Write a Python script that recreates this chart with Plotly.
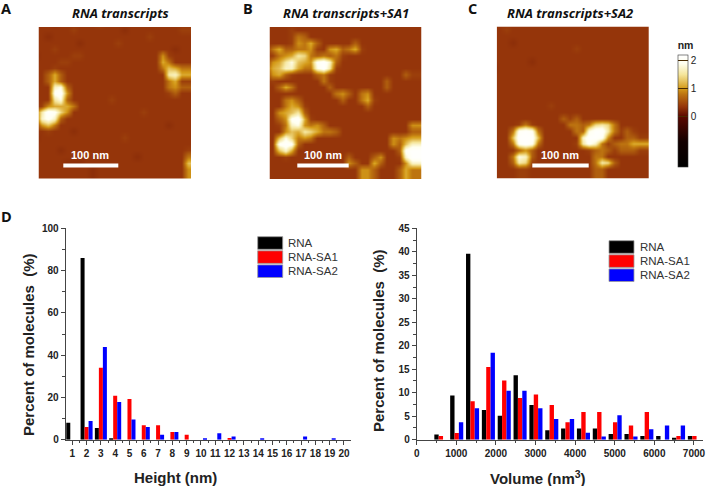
import plotly.graph_objects as go

W, H = 706, 486

# ---- histogram data ----
height_bins = list(range(1, 21))
height_rna = [8, 86, 5.5, 0.4, 0, 0, 0, 0, 0, 0, 0, 0, 0, 0, 0, 0, 0, 0, 0, 0]
height_sa1 = [0, 6, 34, 20.8, 19.2, 6.8, 6.8, 3.7, 2.3, 0, 0, 0.8, 0, 0, 0, 0, 0, 0, 0, 0]
height_sa2 = [0, 8.9, 43.8, 17.8, 9.6, 6, 2.3, 3.7, 0, 0.7, 3, 1.5, 0, 0.7, 0, 0, 1.5, 0, 0.7, 0]

volume_bins = [500, 900, 1300, 1700, 2100, 2500, 2900, 3300, 3700, 4100, 4500, 4900, 5300, 5700, 6100, 6500, 6900]
volume_rna = [1.1, 9.4, 39.6, 6.3, 5.1, 13.7, 7.4, 2, 2.4, 2.4, 2.4, 1.2, 1.2, 0.8, 0.8, 0.4, 0.8]
volume_sa1 = [0.8, 1.4, 8.2, 15.5, 12.6, 8.9, 9.6, 7.4, 3.7, 5.9, 5.9, 3.7, 3, 5.9, 0, 0.8, 0.8]
volume_sa2 = [0, 3.7, 6.7, 18.5, 10.4, 10.4, 6.7, 4.4, 4.4, 1.5, 0.7, 5.2, 0.7, 2.2, 3, 3, 0]

series_names = ["RNA", "RNA-SA1", "RNA-SA2"]
series_colors = ["#000000", "#ff0000", "#0000ff"]

# ---- AFM height maps, one hex digit per cell, top row first ----
afm_a = [
    "333233333343333333333333",
    "333333433333332333333334",
    "332333333333333333433333",
    "333333323333343333333333",
    "333433333333333333333323",
    "233333443333333333337433",
    "333344333333333333338633",
    "333433333333333333336986",
    "335853333333333333333bc8",
    "335853333333333333333684",
    "333cd5333333333333333675",
    "333ef7333333333333333453",
    "333bd5333333433333333333",
    "347888633333333333333333",
    "5bfea7333333333334333333",
    "4cec53333333333333333333",
    "379633333333333333333233",
    "334333233333333333333333",
    "233333333333334333333333",
    "333333333333333333333333",
    "3333233333333333333333334",
    "3333333333333333233333336",
    "3333322233333333333333339",
    "3333333332333333333333337",
]
afm_b = [
    "333333333333333333333333",
    "333343333333333333333333",
    "333346533333333333333333",
    "333347685333335333333333",
    "368556674378568433333333",
    "34678ba65656433333333333",
    "478bd987efc5333333333333",
    "589cc866dfb4333333333333",
    "478543335643333333333354",
    "343333333643333333353333",
    "335863333353333333353333",
    "333333333336753673333333",
    "333675333333533684333333",
    "333687433333333353333333",
    "33789b533333333333333333",
    "3357ef843333333333333333",
    "3346cd767533333333333337",
    "333798ba8665333333333335",
    "339da6763333333333337678",
    "33efe533333333333333759c",
    "339c833333333333333335ef",
    "3334333333333533357334cf",
    "33333333333337533853337c",
    "333333333333333775333586",
]
afm_c = [
    "333333333333333333333333",
    "334333333333333333333333",
    "333333333333333333333333",
    "333233333333333333333333",
    "333333333333343333333333",
    "333333333333333333333333",
    "333333233333333333333333",
    "233333333333333333333333",
    "333333333333333333333333",
    "333333333333333333333333",
    "333333333333333333333333",
    "333333333333333333333333",
    "333333333333333333333333",
    "333333333433333333333333",
    "333333333333333333333333",
    "333333333335453333333333",
    "3333464333336656aba63333",
    "3336efe63333365dffb64543",
    "3339fff9333333cffe733554",
    "3336efe6333334bec6456688",
    "333357533333333456545554",
    "333 6dc5333333333 66333333".replace(" ", ""),
    "3335ba43333333336ba53333",
    "333344333333333355333333",
]

# z value of each hex level; background levels 2-4 are close together
level_z = [-0.1, 0.05, 0.3, 0.35, 0.42, 0.65, 0.8, 0.95, 1.1, 1.25, 1.4, 1.55, 1.7, 1.85, 2.0, 2.15]

def cell_rows(rows):
    out = []
    for r in rows:
        r = r[:26]
        out.append([level_z[int(c, 16)] for c in r + r[-1] * (26 - len(r))])
    return out + [out[-1], out[-1]]

afm_scale = [
    [0.0, "#000000"], [0.225, "#120000"], [0.45, "#5a0800"], [0.5375, "#95350a"],
    [0.65, "#bd7410"], [0.7, "#d49a18"], [0.825, "#f5e59a"], [0.925, "#fffff0"], [1.0, "#ffffff"],
]

def px(x):
    return x / W

def py(y):
    return 1 - y / H

def label(x, y, text, font, angle=0, anchor="center"):
    return dict(x=px(x), y=py(y), xref="paper", yref="paper", text=text, showarrow=False, textangle=angle,
                xanchor=anchor, yanchor="middle", font=font)

fig = go.Figure()

# AFM panels
panels = [
    (afm_a, 38.5, 191, 27, 178.5, "x3", "y3", "RNA transcripts", 120.7, "A", 6),
    (afm_b, 269.5, 421.5, 27, 179, "x4", "y4", "RNA transcripts+SA1", 346, "B", 248),
    (afm_c, 496.7, 649, 26.5, 178.5, "x5", "y5", "RNA transcripts+SA2", 570, "C", 472),
]
scale_bars = [(63.3, 118.3), (297.3, 348.7), (532.3, 588.7)]
annotations = []
shapes = []
layout_axes = {}
letter_font = dict(family="Open Sans", size=14.5, color="#111111", weight="bold")
for i, (rows, x0, x1, y0, y1, xa, ya, title, tx, letter, lx) in enumerate(panels):
    fig.add_trace(go.Heatmap(
        z=cell_rows(rows), xaxis=xa, yaxis=ya, zmin=-1.8, zmax=2.2, zsmooth="best",
        colorscale=afm_scale, showscale=i == 0, hoverinfo="skip",
        colorbar=dict(
            x=px(678), xanchor="left", y=py(167), yanchor="bottom", lenmode="pixels", len=129,
            thickness=9.5, xpad=0, ypad=0, outlinecolor="#333333", outlinewidth=0.6,
            tickvals=[0, 1, 2], ticks="inside", ticklen=9.5, tickcolor="#4a2a00", tickwidth=1,
            tickfont=dict(family="Liberation Sans", size=10, color="#222222"),
            title=dict(text="nm", side="top", font=dict(family="Liberation Sans", size=10.5, color="#222222", weight="bold")),
        ),
    ))
    n = xa[1:]
    layout_axes[f"xaxis{n}"] = dict(domain=[px(x0), px(x1)], range=[0.5, 24.5], visible=False, anchor=ya)
    layout_axes[f"yaxis{n}"] = dict(domain=[py(y1), py(y0)], range=[24.5, 0.5], visible=False, anchor=xa)
    annotations.append(label(tx, 13, f"<i>{title}</i>", dict(family="Open Sans", size=13, color="#111111", weight="bold")))
    annotations.append(label(lx, 8, letter, letter_font))
    bx0, bx1 = scale_bars[i]
    shapes.append(dict(type="rect", xref="paper", yref="paper", x0=px(bx0), x1=px(bx1), y0=py(167.5), y1=py(163.5),
                       fillcolor="white", line_width=0))
    annotations.append(label((bx0 + bx1) / 2 - 0.5, 155, "100 nm",
                             dict(family="Liberation Sans", size=11, color="white", weight="bold")))
annotations.append(label(6, 216, "D", letter_font))

# Height histogram
for name, color, vals in zip(series_names, series_colors, [height_rna, height_sa1, height_sa2]):
    fig.add_trace(go.Bar(x=height_bins, y=vals, name=name, marker=dict(color=color, line_width=0),
                         xaxis="x", yaxis="y", showlegend=False))

# Volume histogram
for k, (name, color, vals) in enumerate(zip(series_names, series_colors, [volume_rna, volume_sa1, volume_sa2])):
    fig.add_trace(go.Bar(x=volume_bins, y=vals, name=name, marker=dict(color=color, line_width=0),
                         xaxis="x2", yaxis="y2", showlegend=False, width=110, offset=-55 + 110 * k))

# Hand-placed legends matching the swatch blocks of the figure
for lx0, top in ((257.7, 236.7), (609, 240.7)):
    for k, (name, color) in enumerate(zip(series_names, series_colors)):
        y0 = top + 14.1 * k
        shapes.append(dict(type="rect", xref="paper", yref="paper", x0=px(lx0), x1=px(lx0 + 25),
                           y0=py(y0 + 12.6), y1=py(y0), fillcolor=color, line=dict(color="#999999", width=0.8)))
        annotations.append(label(lx0 + 28.5, y0 + 6.3, name, dict(family="Liberation Sans", size=11.5, color="#333333"), anchor="left"))

tick_font = dict(family="Liberation Sans", size=10, color="#222222", weight="bold")
title_font = dict(family="Liberation Sans", size=15, color="#222222", weight="bold")
annotations += [
    label(175, 477.7, "Height (nm)", title_font),
    label(538, 477.7, "Volume (nm<sup>3</sup>)", title_font),
    label(28, 345, "Percent of molecules \u00a0(%)", title_font, angle=-90),
    label(378, 341, "Percent of molecules \u00a0(%)", title_font, angle=-90),
]
axis_common = dict(showgrid=False, zeroline=False, showline=True, linecolor="#444444", linewidth=1,
                   ticks="outside", tickcolor="#444444", ticklen=4, tickwidth=1, tickfont=tick_font)

fig.update_layout(
    width=W, height=H, margin=dict(l=0, r=0, t=0, b=0, autoexpand=False), paper_bgcolor="white", plot_bgcolor="white",
    barmode="group", bargap=0.16, bargroupgap=0, showlegend=False,
    annotations=annotations, shapes=shapes,
    xaxis=dict(domain=[px(65.7), px(351)], range=[0.54, 20.49], tickmode="array", tickvals=height_bins, anchor="y",
               minor=dict(dtick=0.5, tick0=0.5, ticks="outside", ticklen=2.5, tickcolor="#444444", showgrid=False),
               **axis_common),
    yaxis=dict(domain=[py(439.7), py(228.3)], range=[0, 100], dtick=20, anchor="x",
               minor=dict(dtick=10, ticks="outside", ticklen=2.5, tickcolor="#444444", showgrid=False),
               **axis_common),
    xaxis2=dict(domain=[px(416.7), px(702.7)], range=[0, 7220], dtick=1000, anchor="y2",
                minor=dict(dtick=500, ticks="outside", ticklen=2.5, tickcolor="#444444", showgrid=False),
                **axis_common),
    yaxis2=dict(domain=[py(439.7), py(228.3)], range=[0, 45], dtick=5, anchor="x2",
                minor=dict(dtick=2.5, ticks="outside", ticklen=2.5, tickcolor="#444444", showgrid=False),
                **axis_common),
    **layout_axes,
)

fig.write_html("out.html", config=dict(displayModeBar=False),
               post_script="document.body.style.margin='0';document.body.style.overflow='hidden';")
